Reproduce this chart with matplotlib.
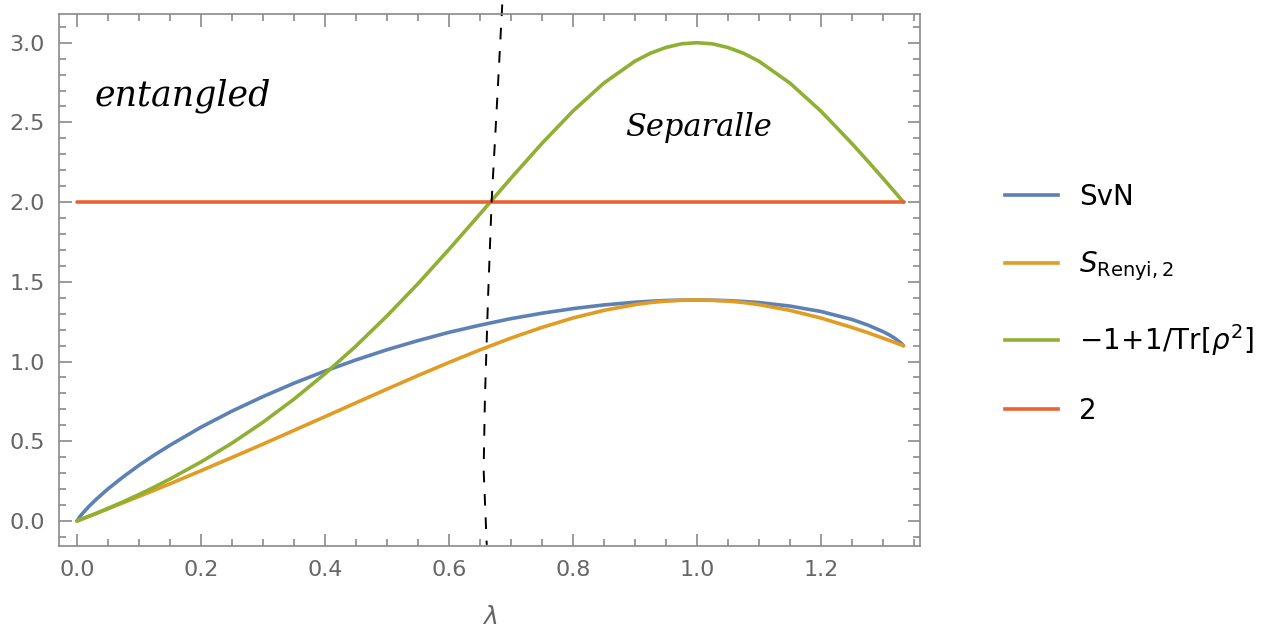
import numpy as np
import matplotlib.pyplot as plt
from matplotlib.lines import Line2D

# values
lam = [0.0, 0.005, 0.01, 0.02, 0.03, 0.05, 0.075, 0.1, 0.125, 0.15, 0.2, 0.25, 0.3,
       0.35, 0.4, 0.45, 0.5, 0.55, 0.6, 0.65, 0.7, 0.75, 0.8, 0.85, 0.9, 0.925,
       0.95, 0.975, 1.0, 1.025, 1.05, 1.075, 1.1, 1.15, 1.2, 1.25, 1.275, 1.3,
       1.31, 1.32, 1.33, 1.3333]
svn = [0.0, 0.029, 0.052, 0.094, 0.132, 0.201, 0.278, 0.349, 0.414, 0.475, 0.588,
       0.689, 0.780, 0.864, 0.940, 1.010, 1.074, 1.131, 1.183, 1.228, 1.269, 1.303,
       1.332, 1.355, 1.372, 1.378, 1.383, 1.385, 1.386, 1.385, 1.382, 1.377, 1.370,
       1.348, 1.314, 1.264, 1.230, 1.188, 1.168, 1.144, 1.113, 1.099]
renyi = [0.0, 0.0075, 0.015, 0.030, 0.045, 0.076, 0.115, 0.154, 0.193, 0.233, 0.315,
         0.398, 0.482, 0.568, 0.654, 0.741, 0.827, 0.912, 0.994, 1.073, 1.147, 1.214,
         1.273, 1.321, 1.357, 1.370, 1.379, 1.384, 1.386, 1.384, 1.379, 1.370, 1.357,
         1.321, 1.273, 1.214, 1.182, 1.147, 1.133, 1.118, 1.104, 1.099]
green = [0.0, 0.0075, 0.015, 0.031, 0.046, 0.079, 0.121, 0.166, 0.213, 0.263, 0.370,
         0.488, 0.619, 0.764, 0.923, 1.097, 1.286, 1.488, 1.703, 1.925, 2.150, 2.368,
         2.571, 2.747, 2.884, 2.934, 2.970, 2.993, 3.0, 2.993, 2.970, 2.934, 2.884,
         2.747, 2.571, 2.368, 2.260, 2.150, 2.105, 2.060, 2.015, 2.0]
two_x = [0.0, 1.3333]
two_y = [2.0, 2.0]

# hand drawn separation line
sep_x = [0.686, 0.677, 0.669, 0.663, 0.658, 0.656, 0.661]
sep_y = [3.24, 2.58, 2.015, 1.39, 0.76, 0.32, -0.15]

labels = ['SvN', r'$S_{\mathrm{Renyi,2}}$', r'$-1\!+\!1/\mathrm{Tr}[\rho^2]$', '2']
colors = ['#5E81B5', '#E19C24', '#8FB032', '#EB6235']

fig = plt.figure(figsize=(12.8, 6.37), dpi=100)
ax = fig.add_axes([0.0461, 0.1429, 0.6727, 0.8351])

lw = 2.6
ax.plot(lam, svn, color=colors[0], lw=lw, solid_capstyle='round', solid_joinstyle='round')
ax.plot(lam, renyi, color=colors[1], lw=lw, solid_capstyle='round', solid_joinstyle='round')
ax.plot(lam, green, color=colors[2], lw=lw, solid_capstyle='round', solid_joinstyle='round')
ax.plot(two_x, two_y, color=colors[3], lw=lw, solid_capstyle='round')

ax.plot(sep_x, sep_y, color='black', lw=1.4, ls=(0, (6, 6)), clip_on=False)

ax.text(0.029, 2.67, 'entangled', fontsize=25, family='DejaVu Serif',
        style='italic', va='center')
ax.text(0.884, 2.47, 'Separalle', fontsize=22, family='DejaVu Serif',
        style='italic', va='center')

ax.set_xlim(-0.029, 1.36)
ax.set_ylim(-0.157, 3.18)
ax.set_xticks(np.arange(0, 1.3, 0.2))
ax.set_xticks(np.arange(0, 1.36, 0.05), minor=True)
ax.set_yticks(np.arange(0, 3.01, 0.5))
ax.set_yticks(np.arange(-0.1, 3.11, 0.1), minor=True)
ax.xaxis.set_major_formatter(plt.FuncFormatter(lambda v, p: '%.1f' % v))
ax.yaxis.set_major_formatter(plt.FuncFormatter(lambda v, p: '%.1f' % v))

gray = '#8a8a8a'
for s in ax.spines.values():
    s.set_color(gray)
    s.set_linewidth(1.2)
ax.tick_params(which='both', direction='in', top=True, right=True, color=gray,
               labelcolor='#666666', labelsize=16, width=1.2)
ax.tick_params(which='major', length=9, pad=10)
ax.tick_params(which='minor', length=5)
ax.set_xlabel(r'$\lambda$', fontsize=18, color='#666666', labelpad=18)

handles = [Line2D([], [], color=c, lw=2.6) for c in colors]
fig.legend(handles, labels, loc='center left', bbox_to_anchor=(0.766, 0.523),
           frameon=False, fontsize=20, handlelength=1.9, handletextpad=0.75,
           labelspacing=1.4)

fig.savefig('out.png', dpi=100)
